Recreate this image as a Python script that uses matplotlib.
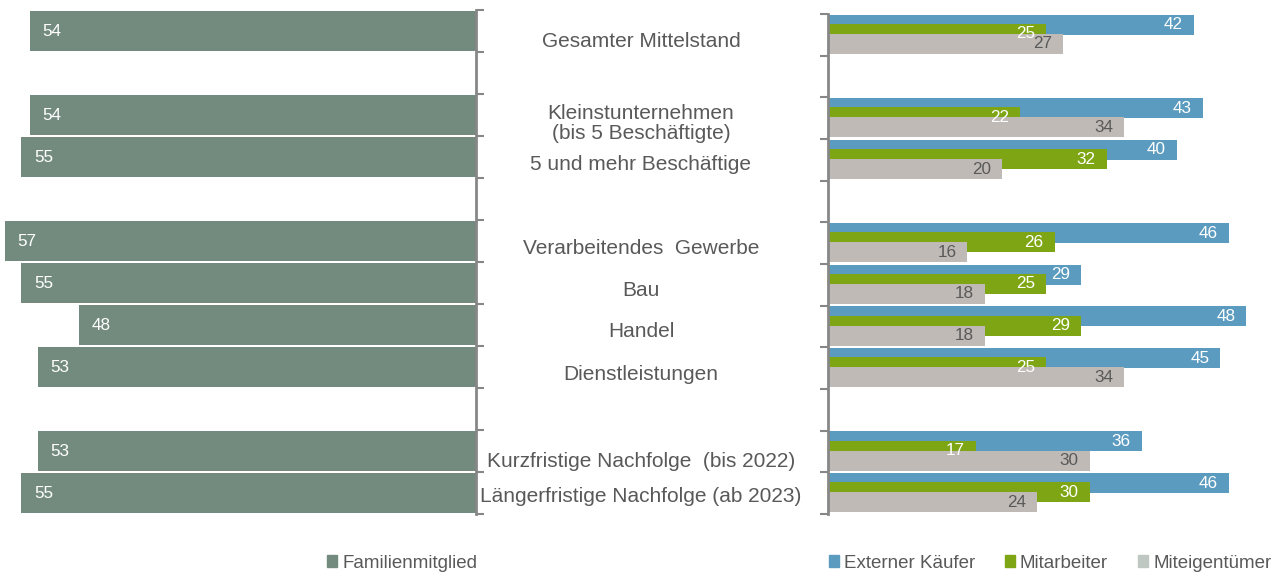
import matplotlib
matplotlib.use("Agg")
import matplotlib.pyplot as plt
from matplotlib.patches import Patch
from matplotlib.transforms import blended_transform_factory

plt.rcParams['font.family'] = ['Liberation Sans', 'DejaVu Sans']

# Zeilen (Slots) des Diagramms, None = Leerzeile
categories = ["Gesamter Mittelstand", None,
              "Kleinstunternehmen\n(bis 5 Beschäftigte)", "5 und mehr Beschäftige", None,
              "Verarbeitendes  Gewerbe", "Bau", "Handel", "Dienstleistungen", None,
              "Kurzfristige Nachfolge  (bis 2022)", "Längerfristige Nachfolge (ab 2023)"]
slots = [i for i, c in enumerate(categories) if c is not None]

familie = [54, 54, 55, 57, 55, 48, 53, 53, 55]
extern = [42, 43, 40, 46, 29, 48, 45, 36, 46]
mitarbeiter = [25, 22, 32, 26, 25, 29, 25, 17, 30]
miteigentuemer = [27, 34, 20, 16, 18, 18, 34, 30, 24]

# kleine vertikale Verschiebung der Beschriftungen (in Slot-Einheiten)
label_nudge = [0.26, 0, 0.2, 0.17, 0, 0.17, 0.17, 0.15, 0.17, 0, 0.26, 0.09]

c_fam = "#738b7e"
c_ext = "#5b9bbf"
c_mit = "#7ea614"
c_eig = "#bfbab6"
c_txt = "#595959"
c_axis = "#878787"

W, H = 1277, 575
fig = plt.figure(figsize=(W / 100, H / 100), dpi=100)
# linke Achse: 10..514 px, rechte Achse: 14..514 px (von oben)
axL = fig.add_axes([0, 1 - 514 / H, 476 / W, 504 / H])
axR = fig.add_axes([828 / W, 1 - 514 / H, (W - 828) / W, 500 / H])

n = len(categories)
centers = [s + 0.5 for s in slots]

# linke Seite: Familienmitglied
axL.barh(centers, familie, height=0.96, color=c_fam)
for y, v in zip(centers, familie):
    axL.annotate(str(v), (v, y), xytext=(9, 0), textcoords="offset points",
                 ha="left", va="center", color="white", fontsize=12.3)
axL.set_xlim(57.6, 0)

# rechte Seite: drei Serien, ueberlappend
series = [(extern, c_ext, -0.24, "white"),
          (mitarbeiter, c_mit, -0.02, "white"),
          (miteigentuemer, c_eig, 0.22, c_txt)]
for vals, col, off, tcol in series:
    ys = [c + off for c in centers]
    axR.barh(ys, vals, height=0.48, color=col)
for vals, col, off, tcol in series:
    for y, v in zip([c + off for c in centers], vals):
        axR.annotate(str(v), (v, y), xytext=(-8, 0), textcoords="offset points",
                     ha="right", va="center", color=tcol, fontsize=12.3)
axR.set_xlim(0, 51.5)

for ax in (axL, axR):
    ax.set_ylim(n, 0)
    ax.set_yticks(range(n + 1))
    ax.set_yticklabels([])
    ax.set_xticks([])
    for sp in ax.spines.values():
        sp.set_visible(False)
    ax.tick_params(axis="y", length=6, width=1.5, color=c_axis, direction="out")
    ax.patch.set_alpha(0)

axL.yaxis.tick_right()
axL.spines["right"].set_visible(True)
axL.spines["right"].set_color(c_axis)
axL.spines["right"].set_linewidth(2)
axR.spines["left"].set_visible(True)
axR.spines["left"].set_color(c_axis)
axR.spines["left"].set_linewidth(2)

# Kategorienbeschriftung in der Mitte
tr = blended_transform_factory(fig.transFigure, axL.transData)
for i, c in enumerate(categories):
    if c is None:
        continue
    axL.text(641 / W, i + 0.5 + label_nudge[i], c, transform=tr, ha="center",
             va="center", color=c_txt, fontsize=15, linespacing=1.1, clip_on=False)

# Legenden
leg_kw = dict(frameon=False, fontsize=13.5, handlelength=0.55, handleheight=0.55,
              handletextpad=0.25, labelcolor=c_txt, borderaxespad=0)
fig.legend(handles=[Patch(color=c_fam, label="Familienmitglied")],
           loc="center", bbox_to_anchor=(402 / W, 1 - 563 / H), **leg_kw)
fig.legend(handles=[Patch(color=c_ext, label="Externer Käufer"),
                    Patch(color=c_mit, label="Mitarbeiter"),
                    Patch(color="#bfc7c3", label="Miteigentümer")],
           loc="center", bbox_to_anchor=(1050 / W, 1 - 563 / H), ncol=3,
           columnspacing=1.6, **leg_kw)

fig.savefig("out.png", dpi=100)
